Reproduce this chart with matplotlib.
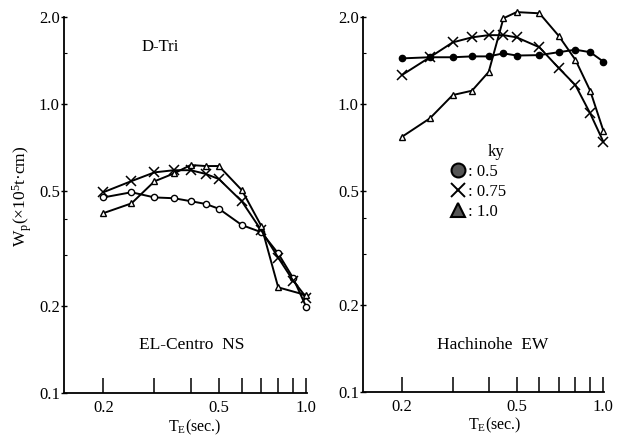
import matplotlib
matplotlib.use('Agg')
import matplotlib.pyplot as plt
from matplotlib.ticker import FixedLocator, NullFormatter
from matplotlib.lines import Line2D

plt.rcParams['font.family'] = ['Liberation Serif', 'DejaVu Serif']
plt.rcParams['mathtext.fontset'] = 'custom'
plt.rcParams['mathtext.rm'] = 'Liberation Serif'
plt.rcParams['mathtext.it'] = 'Liberation Serif:italic'

# 周期 T_E (sec.)
T = [0.2, 0.25, 0.3, 0.35, 0.4, 0.45, 0.5, 0.6, 0.7, 0.8, 0.9, 1.0]
T_el_10 = [0.2, 0.25, 0.3, 0.35, 0.4, 0.45, 0.5, 0.6, 0.7, 0.8, 1.0]

# EL-Centro NS
wp_el_05 = [0.475, 0.495, 0.475, 0.472, 0.461, 0.451, 0.434, 0.381, 0.36, 0.304, 0.25, 0.198]
wp_el_075 = [0.495, 0.541, 0.58, 0.59, 0.59, 0.573, 0.55, 0.46, 0.365, 0.294, 0.245, 0.214]
wp_el_10 = [0.419, 0.453, 0.54, 0.575, 0.615, 0.61, 0.61, 0.503, 0.378, 0.232, 0.218]

# Hachinohe EW
wp_ha_05 = [1.437, 1.45, 1.45, 1.46, 1.46, 1.496, 1.47, 1.475, 1.51, 1.54, 1.51, 1.40]
wp_ha_075 = [1.258, 1.45, 1.633, 1.70, 1.73, 1.73, 1.70, 1.57, 1.33, 1.16, 0.926, 0.738]
wp_ha_10 = [0.768, 0.89, 1.072, 1.11, 1.29, 1.98, 2.08, 2.06, 1.72, 1.42, 1.11, 0.806]

ky_labels = [': 0.5', ': 0.75', ': 1.0']
x_major = [0.2, 0.5, 1.0]
x_minor = [0.3, 0.4, 0.6, 0.7, 0.8, 0.9]
y_major = [0.1, 0.2, 0.5, 1.0, 2.0]
y_minor = [0.3, 0.4, 1.5]

W, H = 628, 437


def px_rect(x0, y0, x1, y1):
    # pixel coords (top-left origin) -> figure fraction
    return [x0 / W, 1 - y1 / H, (x1 - x0) / W, (y1 - y0) / H]


def setup_axis(ax):
    ax.set_xscale('log')
    ax.set_yscale('log')
    ax.set_xlim(0.1465, 1.005)
    ax.set_ylim(0.1, 2.0)
    for s in ['top', 'right']:
        ax.spines[s].set_visible(False)
    for s in ['left', 'bottom']:
        ax.spines[s].set_linewidth(1.3)
    ax.xaxis.set_major_locator(FixedLocator(x_major))
    ax.xaxis.set_minor_locator(FixedLocator(x_minor))
    ax.set_xticklabels(['0.2', '0.5', '1.0'])
    ax.xaxis.set_minor_formatter(NullFormatter())
    ax.yaxis.set_major_locator(FixedLocator(y_major))
    ax.yaxis.set_minor_locator(FixedLocator(y_minor))
    ax.set_yticklabels(['0.1', '0.2', '0.5', '1.0', '2.0'])
    ax.yaxis.set_minor_formatter(NullFormatter())
    ax.tick_params(axis='x', which='both', direction='in', length=11, width=1.1,
                   labelsize=12, pad=5)
    ax.tick_params(axis='y', which='major', direction='inout', length=4, width=1.0,
                   labelsize=12, pad=1)
    ax.tick_params(axis='y', which='minor', direction='in', length=2, width=0.8)
    ax.set_facecolor('white')


def draw_series(ax, t, t10, y05, y075, y10, open_circle):
    fc = 'white' if open_circle else 'black'
    ax.plot(t, y05, color='black', lw=1.4, marker='o', ms=4.5, mfc=fc,
            mec='black', mew=1.0, clip_on=False)
    ax.plot(t, y075, color='black', lw=1.4, marker='x', ms=7, mew=1.1, clip_on=False)
    ax.plot(t10, y10, color='black', lw=1.4, marker='^', ms=5, mfc='white',
            mec='black', mew=1.0, clip_on=False)


fig = plt.figure(figsize=(W / 100, H / 100), dpi=100)
fig.patch.set_facecolor('white')

ax1 = fig.add_axes(px_rect(64, 17, 307, 393))
setup_axis(ax1)
draw_series(ax1, T, T_el_10, wp_el_05, wp_el_075, wp_el_10, True)
ax1.text(160 / W, 1 - 47 / H, 'D-Tri', transform=fig.transFigure,
         ha='center', va='center', fontsize=12)
ax1.text(192 / W, 1 - 345 / H, 'EL-Centro  NS', transform=fig.transFigure,
         ha='center', va='center', fontsize=12.5)
fig.text(22 / W, 1 - 196 / H, r'W$_\mathrm{p}$(×10$^5$t·cm)', rotation=90,
         ha='center', va='center', fontsize=12.5)
fig.text(195 / W, 1 - 427 / H, r'T$_\mathrm{E}$(sec.)', ha='center', va='center',
         fontsize=11.5)

ax2 = fig.add_axes(px_rect(363, 17, 604, 392))
setup_axis(ax2)
draw_series(ax2, T, T, wp_ha_05, wp_ha_075, wp_ha_10, False)
ax2.text(493 / W, 1 - 345 / H, 'Hachinohe  EW', transform=fig.transFigure,
         ha='center', va='center', fontsize=12.5)
fig.text(495 / W, 1 - 425 / H, r'T$_\mathrm{E}$(sec.)', ha='center', va='center',
         fontsize=11.5)

handles = [
    Line2D([], [], ls='none', marker='o', ms=10, mfc='#555555', mec='black', mew=1.5),
    Line2D([], [], ls='none', marker='x', ms=10, mec='black', mew=1.4),
    Line2D([], [], ls='none', marker='^', ms=10, mfc='#555555', mec='black', mew=1.5),
]
leg = ax2.legend(handles, ky_labels, title='ky', frameon=False,
                 loc='upper left', bbox_to_anchor=(440 / W, 1 - 132 / H),
                 bbox_transform=fig.transFigure, fontsize=12, title_fontsize=12,
                 handlelength=0.8, handletextpad=0.2, labelspacing=0.25,
                 borderpad=0.2)
leg._legend_box.align = 'left'
leg.get_title().set_position((36, 0))

fig.savefig('out.png', dpi=100)
